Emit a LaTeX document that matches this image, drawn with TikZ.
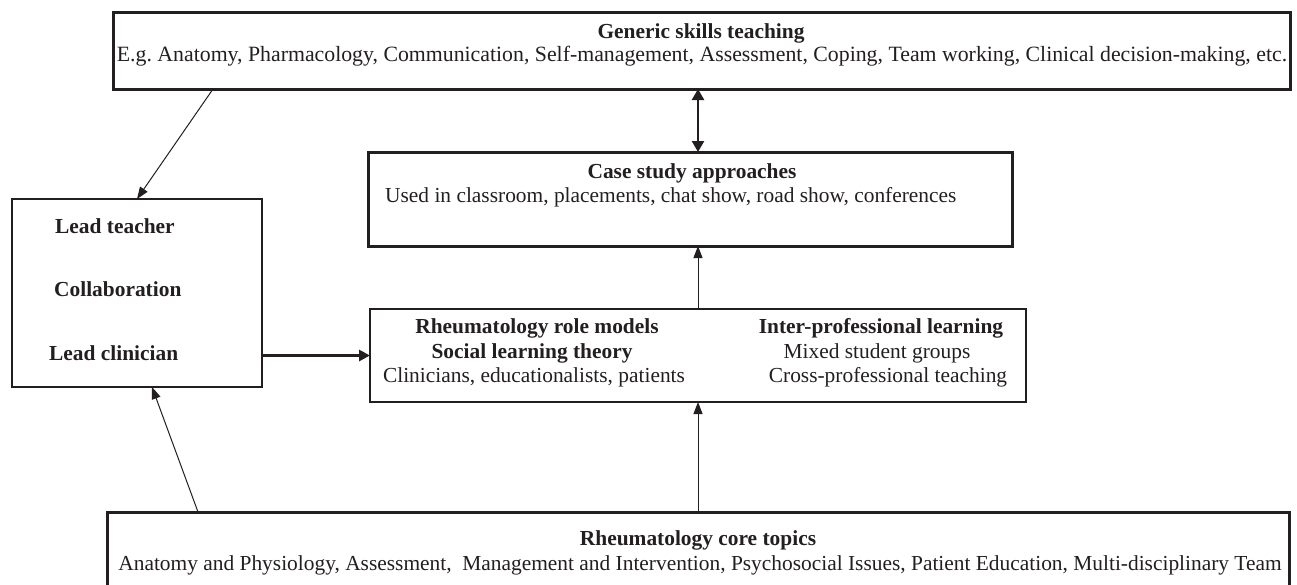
\documentclass[tikz,border=0pt]{standalone}
\usepackage{fontspec}
\setmainfont{Liberation Serif}
\usetikzlibrary{arrows.meta}
\definecolor{ink}{HTML}{231F20}
\frenchspacing
\begin{document}
\begin{tikzpicture}[x=1pt,y=-1pt,
  thickbox/.style={draw=ink, line width=3pt, inner sep=0pt, outer sep=0pt},
  thinbox/.style={draw=ink, line width=1.2pt, inner sep=0pt, outer sep=0pt},
  txt/.style={inner sep=0pt, text=ink, font=\fontsize{21.4}{25}\selectfont},
  btxt/.style={inner sep=0pt, text=ink, font=\fontsize{21.4}{25}\selectfont\bfseries},
  thinarrow/.style={draw=ink, line width=1pt, -{Triangle[length=12pt,width=9pt]}},
  thickarrow/.style={draw=ink, line width=3.4pt, -{Triangle[length=11pt,width=11pt]}},
  dblarrow/.style={draw=ink, line width=2.4pt, {Triangle[length=11pt,width=12pt]}-{Triangle[length=11pt,width=12pt]}}
 ]
\useasboundingbox (0,0) rectangle (1297,584);
\clip (0,0) rectangle (1297,584);
\fill[white] (0,0) rectangle (1297,584);

% boxes
\node[thickbox, minimum width=1177pt, minimum height=77pt] (top) at (701.5,50.5) {};
\node[thickbox, minimum width=644pt, minimum height=94pt] (case) at (690,199) {};
\node[thinbox, minimum width=656pt, minimum height=93pt] (middle) at (698,355.5) {};
\node[thinbox, minimum width=250pt, minimum height=188pt] (lead) at (137,293) {};
\node[thickbox, minimum width=1182pt, minimum height=90pt] (core) at (698,557) {};

% top texts
\node[btxt] (topT) at (701,33) {Generic skills teaching};
\node[txt, font=\fontsize{21.8}{25}\selectfont] (topB) at (702,56) {E.g. Anatomy, Pharmacology, Communication, Self-management, Assessment, Coping, Team working, Clinical decision-making, etc.};

% case texts
\node[btxt] (caseT) at (692,173) {Case study approaches};
\node[txt, anchor=west] (caseB) at (385,197) {Used in classroom, placements, chat show, road show, conferences};

% lead texts
\node[btxt, anchor=west] (l1) at (55,226) {Lead teacher};
\node[btxt, anchor=west] (l2) at (54,289) {Collaboration};
\node[btxt, anchor=west] (l3) at (49,353) {Lead clinician};

% middle texts
\node[btxt] (m1) at (537,328) {Rheumatology role models};
\node[btxt] (m2) at (532,353) {Social learning theory};
\node[txt] (m3) at (534,377) {Clinicians, educationalists, patients};
\node[btxt] (r1) at (881,328) {Inter-professional learning};
\node[txt] (r2) at (877,353) {Mixed student groups};
\node[txt] (r3) at (888,377) {Cross-professional teaching};

% core texts
\node[btxt] (coreT) at (698,540) {Rheumatology core topics};
\node[txt] (coreB) at (700,565) {Anatomy and Physiology, Assessment,\ \ Management and Intervention, Psychosocial Issues, Patient Education, Multi-disciplinary Team};

% connectors
\draw[thinarrow] ([xshift=100pt]top.south west) -- ([xshift=125pt]lead.north west);
\draw[thinarrow] ([xshift=91pt]core.north west) -- ([xshift=140pt]lead.south west);
\draw[thickarrow] (lead.east |- middle.west) -- (middle.west);
\draw[dblarrow] (middle.north |- top.south) -- (middle.north |- case.north);
\draw[thinarrow] (middle.north) -- (middle.north |- case.south);
\draw[thinarrow] (middle.south |- core.north) -- (middle.south);
\end{tikzpicture}
\end{document}
